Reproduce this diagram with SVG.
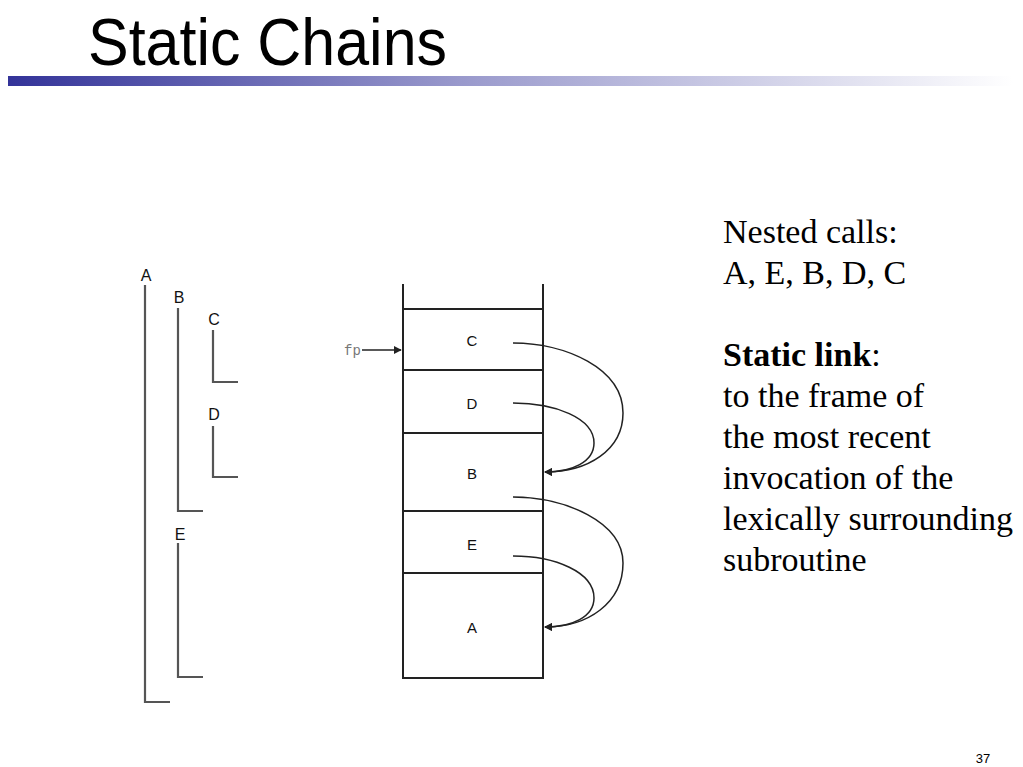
<svg xmlns="http://www.w3.org/2000/svg" width="1023" height="767" viewBox="0 0 1023 767">
<style>
.title{font-family:"Liberation Sans",Arial,sans-serif;font-size:66px;fill:#000}
.lbl{font-family:"Liberation Sans",Arial,sans-serif;font-size:15px;fill:#111;text-anchor:middle}
.slbl{font-family:"Liberation Sans",Arial,sans-serif;font-size:16px;fill:#111;text-anchor:middle}
.scope{stroke:#555;stroke-width:2.2;fill:none}
.frame{stroke:#222;stroke-width:2;fill:none}
.link{stroke:#222;stroke-width:1.5;fill:none}
.body{font-family:"Liberation Serif","Times New Roman",serif;font-size:34px;fill:#000}
.fp{font-family:"Liberation Mono","Courier New",monospace;font-size:14px;fill:#777}
</style>
<defs>
<linearGradient id="bar" x1="0" y1="0" x2="1" y2="0">
<stop offset="0" stop-color="#333399"/>
<stop offset="0.45" stop-color="#9999cc"/>
<stop offset="1" stop-color="#ffffff"/>
</linearGradient>
<marker id="ah" viewBox="0 0 10 10" refX="9" refY="5" markerWidth="8" markerHeight="8" orient="auto" markerUnits="userSpaceOnUse">
<path d="M0,0 L10,5 L0,10 z" fill="#222"/>
</marker>
</defs>
<rect width="1023" height="767" fill="#fff"/>
<text class="title" x="88" y="65" textLength="359" lengthAdjust="spacingAndGlyphs">Static Chains</text>
<rect x="8" y="76" width="1005" height="10" fill="url(#bar)"/>

<g id="scopes">
<g id="scope-A"><text class="slbl" x="146" y="281">A</text><path class="scope" d="M145,285 V702 H170"/></g>
<g id="scope-B"><text class="slbl" x="179" y="303">B</text><path class="scope" d="M178,308 V511 H203"/></g>
<g id="scope-C"><text class="slbl" x="214" y="325">C</text><path class="scope" d="M213,330 V382 H238"/></g>
<g id="scope-D"><text class="slbl" x="214" y="420">D</text><path class="scope" d="M213,426 V477 H238"/></g>
<g id="scope-E"><text class="slbl" x="180" y="540">E</text><path class="scope" d="M178,543 V677 H203"/></g>
</g>

<g id="stack">
<path class="frame" d="M403,284 V678 H543 V284"/>
<g id="frame-C"><line class="frame" x1="403" y1="309" x2="543" y2="309"/><text class="lbl" x="472" y="346">C</text></g>
<g id="frame-D"><line class="frame" x1="403" y1="370" x2="543" y2="370"/><text class="lbl" x="472" y="409">D</text></g>
<g id="frame-B"><line class="frame" x1="403" y1="433" x2="543" y2="433"/><text class="lbl" x="472" y="479">B</text></g>
<g id="frame-E"><line class="frame" x1="403" y1="511" x2="543" y2="511"/><text class="lbl" x="472" y="550">E</text></g>
<g id="frame-A"><line class="frame" x1="403" y1="573" x2="543" y2="573"/><text class="lbl" x="472" y="633">A</text></g>
</g>

<g id="fp"><text class="fp" x="344" y="355">fp</text></g>

<g id="connectors">
<line class="link" x1="362" y1="350" x2="401" y2="350" stroke-width="2" marker-end="url(#ah)"/>
<path class="link" d="M513,343 C565,343 623,368 623,413 C623,450 588,472 545,472" marker-end="url(#ah)"/>
<path class="link" d="M513,403 C555,403 594,418 594,443 C594,462 572,472 545,472" marker-end="url(#ah)"/>
<path class="link" d="M513,497 C565,497 623,522 623,563 C623,603 588,627 545,627" marker-end="url(#ah)"/>
<path class="link" d="M513,556 C555,556 594,572 594,598 C594,617 572,627 545,627" marker-end="url(#ah)"/>
</g>

<g id="notes">
<text class="body" x="723" y="243">Nested calls:</text>
<text class="body" x="723" y="284">A, E, B, D, C</text>
<text class="body" x="723" y="366"><tspan font-weight="bold">Static link</tspan>:</text>
<text class="body" x="723" y="407">to the frame of</text>
<text class="body" x="723" y="448">the most recent</text>
<text class="body" x="723" y="489">invocation of the</text>
<text class="body" x="723" y="530">lexically surrounding</text>
<text class="body" x="723" y="571">subroutine</text>
</g>

<text x="983" y="763" font-family="'Liberation Sans',Arial,sans-serif" font-size="13" text-anchor="middle" fill="#000">37</text>
</svg>
